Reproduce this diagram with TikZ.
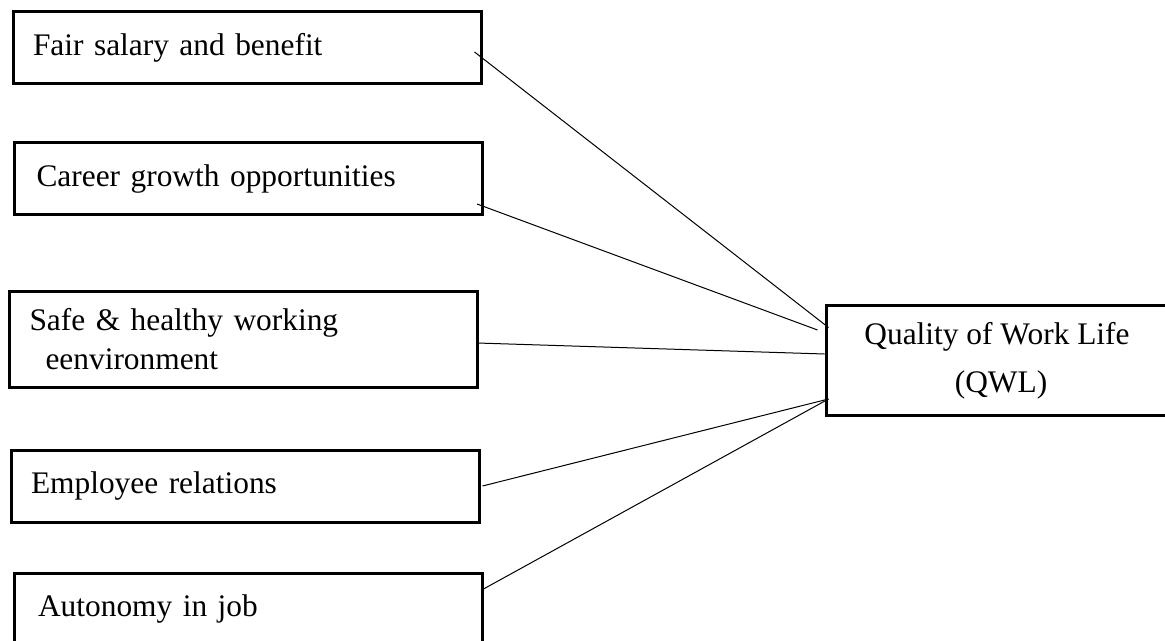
\documentclass[tikz,border=0pt]{standalone}
\usepackage{fontspec}
\setmainfont{Liberation Serif}
\usepackage{tikz}
\usetikzlibrary{calc}

\begin{document}
\begin{tikzpicture}[x=0.5pt, y=-0.5pt,
    every node/.style={font=\fontsize{15.7}{19.5}\selectfont},
    factor/.style={draw, line width=1.5pt, minimum width=234pt, minimum height=36pt,
        inner xsep=10pt, text width=214pt, align=left},
    outcome/.style={draw, line width=1.5pt, minimum width=171pt, minimum height=54.5pt,
        align=center, font=\fontsize{15.7}{24}\selectfont},
    link/.style={line width=0.5pt}]
    \useasboundingbox (0,0) rectangle (1165,641);
    \node[factor] (fair) at (247,48) {Fair salary and benefit};
    \node[factor] (career) at (248.5,179) {\hspace*{1pt}Career growth opportunities};
    \node[factor, minimum height=47.5pt] (safe) at (243.5,339.5) {Safe \& healthy working\\\hspace*{8pt}eenvironment};
    \node[factor] (employee) at (245,486) {Employee relations};
    \node[factor] (autonomy) at (248,609) {\hspace*{2pt}Autonomy in job};
    \node[outcome] (qwl) at (997,360.5) {Quality of Work Life\\\hspace*{4pt}(QWL)};
    \draw[link] ($(fair.east)+(-8,4)$) -- ($(qwl.west)+(4,-33)$);
    \draw[link] ($(career.east)+(-7,25)$) -- ($(qwl.west)+(-7,-30.5)$);
    \draw[link] ($(safe.east)+(-2,3.5)$) -- ($(qwl.west)+(0,-6.5)$);
    \draw[link] ($(employee.east)+(2,0)$) -- ($(qwl.west)+(4,38.5)$);
    \draw[link] ($(autonomy.east)+(0,-20)$) -- ($(qwl.west)+(4,38.5)$);
\end{tikzpicture}
\end{document}
